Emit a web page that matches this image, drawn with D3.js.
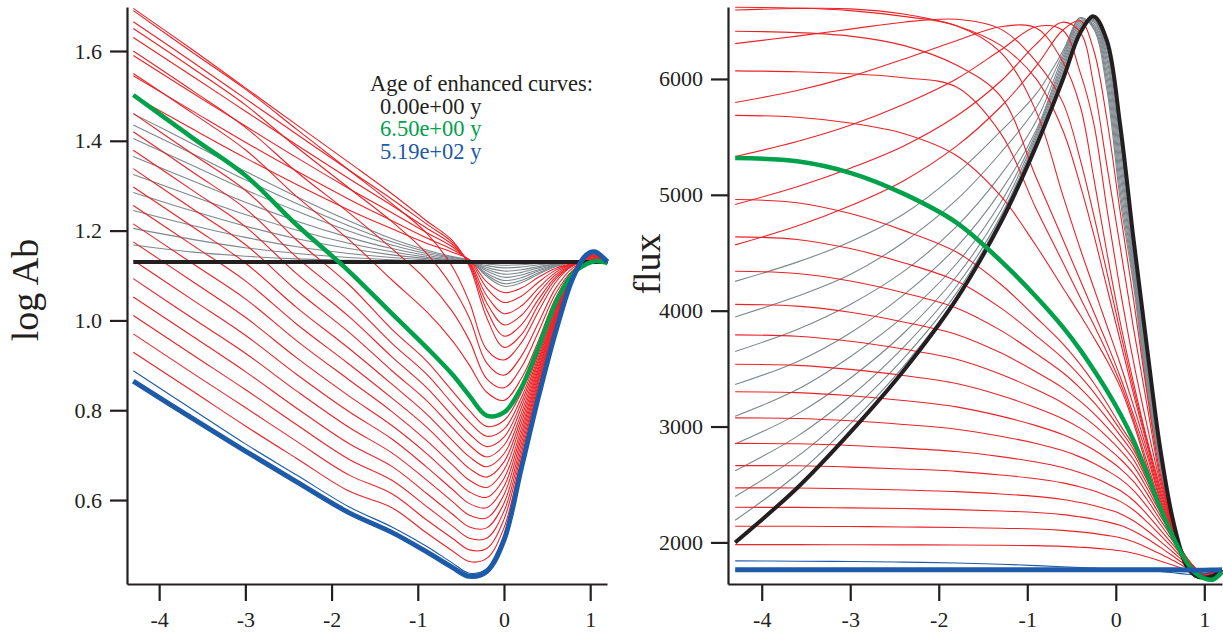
<!DOCTYPE html>
<html><head><meta charset="utf-8">
<script src="https://cdn.jsdelivr.net/npm/d3@7"></script>
<style>
body{margin:0;background:#fff}
svg{display:block}
text{font-family:"Liberation Serif","Times New Roman",serif;fill:#231f20}
</style>
</head><body>
<svg id="chart" width="1223" height="635"></svg>
<script>
// ---------- shared ----------
const xTicks = [-4, -3, -2, -1, 0, 1];
const abTicks = [0.6, 0.8, 1.0, 1.2, 1.4, 1.6];
const fxTicks = [2000, 3000, 4000, 5000, 6000];
const legendTitle = "Age of enhanced curves:";
const legendAges = ["0.00e+00 y", "6.50e+00 y", "5.19e+02 y"];

// ---------- left panel: log Ab ----------
const xLeft = [-4.3, -3.6, -3.0, -2.4, -1.8, -1.3, -0.9, -0.6, -0.4, -0.2, 0.0, 0.2, 0.4, 0.6, 0.8, 0.95, 1.05, 1.2];
const abBlack = [1.13, 1.13, 1.13, 1.13, 1.13, 1.13, 1.13, 1.13, 1.13, 1.13, 1.13, 1.13, 1.13, 1.13, 1.13, 1.13, 1.13, 1.13];
const abGray = [
  [1.168, 1.152, 1.143, 1.137, 1.134, 1.132, 1.131, 1.13, 1.13, 1.128, 1.127, 1.127, 1.128, 1.129, 1.13, 1.13, 1.13, 1.13],
  [1.205, 1.18, 1.162, 1.149, 1.14, 1.135, 1.132, 1.131, 1.13, 1.126, 1.123, 1.124, 1.127, 1.129, 1.13, 1.13, 1.13, 1.13],
  [1.245, 1.211, 1.185, 1.164, 1.149, 1.14, 1.135, 1.132, 1.13, 1.122, 1.117, 1.119, 1.124, 1.128, 1.13, 1.13, 1.13, 1.13],
  [1.285, 1.243, 1.21, 1.182, 1.16, 1.146, 1.138, 1.133, 1.13, 1.118, 1.11, 1.113, 1.12, 1.126, 1.13, 1.13, 1.13, 1.13],
  [1.325, 1.276, 1.236, 1.201, 1.172, 1.153, 1.141, 1.134, 1.131, 1.114, 1.103, 1.107, 1.117, 1.125, 1.129, 1.13, 1.13, 1.13],
  [1.365, 1.31, 1.263, 1.221, 1.185, 1.16, 1.145, 1.136, 1.131, 1.11, 1.096, 1.101, 1.113, 1.124, 1.129, 1.13, 1.13, 1.13],
  [1.405, 1.344, 1.291, 1.243, 1.199, 1.168, 1.149, 1.138, 1.132, 1.105, 1.089, 1.095, 1.11, 1.123, 1.129, 1.13, 1.13, 1.13],
  [1.435, 1.37, 1.313, 1.26, 1.211, 1.175, 1.153, 1.14, 1.133, 1.101, 1.082, 1.089, 1.106, 1.121, 1.129, 1.13, 1.13, 1.13],
  [1.46, 1.392, 1.332, 1.275, 1.222, 1.182, 1.157, 1.142, 1.134, 1.098, 1.076, 1.084, 1.103, 1.12, 1.129, 1.13, 1.13, 1.13]
];
const abRedRise = [
  [1.50, 1.425, 1.362, 1.302, 1.246, 1.204, 1.172, 1.152, 1.135, 1.086, 1.062, 1.072, 1.096, 1.116, 1.127, 1.131, 1.132, 1.13],
  [1.545, 1.465, 1.397, 1.332, 1.27, 1.222, 1.184, 1.158, 1.133, 1.072, 1.04, 1.054, 1.085, 1.112, 1.126, 1.131, 1.133, 1.13],
  [1.59, 1.505, 1.433, 1.362, 1.294, 1.24, 1.196, 1.164, 1.13, 1.055, 1.015, 1.032, 1.072, 1.107, 1.125, 1.131, 1.133, 1.13],
  [1.63, 1.542, 1.466, 1.39, 1.316, 1.256, 1.206, 1.169, 1.127, 1.039, 0.99, 1.011, 1.06, 1.102, 1.124, 1.131, 1.133, 1.13],
  [1.665, 1.574, 1.494, 1.414, 1.335, 1.27, 1.215, 1.174, 1.124, 1.023, 0.965, 0.99, 1.047, 1.097, 1.123, 1.131, 1.134, 1.13],
  [1.695, 1.601, 1.518, 1.435, 1.352, 1.282, 1.222, 1.178, 1.12, 1.006, 0.94, 0.968, 1.035, 1.092, 1.122, 1.131, 1.134, 1.13]
];
const abRedFall = [
  [1.69, 1.595, 1.515, 1.425, 1.335, 1.26, 1.195, 1.12, 1.04, 0.935, 0.912, 0.95, 1.02, 1.085, 1.122, 1.13, 1.133, 1.13],
  [1.65, 1.56, 1.48, 1.385, 1.295, 1.22, 1.15, 1.075, 1.005, 0.905, 0.878, 0.92, 0.995, 1.072, 1.117, 1.129, 1.133, 1.129],
  [1.60, 1.51, 1.43, 1.33, 1.24, 1.16, 1.09, 1.02, 0.955, 0.87, 0.85, 0.895, 0.975, 1.06, 1.112, 1.128, 1.132, 1.129],
  [1.55, 1.46, 1.38, 1.275, 1.18, 1.09, 1.02, 0.955, 0.9, 0.84, 0.822, 0.87, 0.955, 1.05, 1.108, 1.127, 1.132, 1.129]
];
const abGreen = [1.502, 1.405, 1.323, 1.212, 1.11, 1.015, 0.94, 0.88, 0.832, 0.788, 0.795, 0.85, 0.94, 1.04, 1.105, 1.125, 1.132, 1.128];
const abRedLate = [
  [1.461, 1.369, 1.29, 1.178, 1.08, 0.98, 0.91, 0.843, 0.799, 0.764, 0.777, 0.839, 0.933, 1.036, 1.105, 1.126, 1.133, 1.128],
  [1.42, 1.329, 1.249, 1.14, 1.044, 0.949, 0.881, 0.815, 0.773, 0.742, 0.758, 0.827, 0.927, 1.032, 1.104, 1.128, 1.134, 1.128],
  [1.379, 1.288, 1.209, 1.103, 1.009, 0.919, 0.851, 0.788, 0.747, 0.719, 0.74, 0.816, 0.92, 1.028, 1.104, 1.129, 1.136, 1.128],
  [1.338, 1.247, 1.169, 1.066, 0.974, 0.888, 0.822, 0.761, 0.722, 0.696, 0.722, 0.805, 0.913, 1.024, 1.104, 1.13, 1.137, 1.129],
  [1.297, 1.207, 1.128, 1.028, 0.938, 0.858, 0.792, 0.733, 0.696, 0.674, 0.703, 0.793, 0.907, 1.02, 1.103, 1.132, 1.138, 1.129],
  [1.256, 1.166, 1.088, 0.991, 0.903, 0.827, 0.763, 0.706, 0.67, 0.651, 0.685, 0.782, 0.9, 1.016, 1.103, 1.133, 1.139, 1.129],
  [1.215, 1.125, 1.048, 0.954, 0.868, 0.797, 0.733, 0.679, 0.644, 0.628, 0.667, 0.771, 0.893, 1.012, 1.103, 1.134, 1.14, 1.129],
  [1.175, 1.085, 1.007, 0.916, 0.832, 0.766, 0.704, 0.651, 0.618, 0.606, 0.648, 0.759, 0.887, 1.008, 1.102, 1.136, 1.142, 1.129],
  [1.134, 1.044, 0.967, 0.879, 0.797, 0.736, 0.674, 0.624, 0.592, 0.583, 0.63, 0.748, 0.88, 1.004, 1.102, 1.137, 1.143, 1.129],
  [1.093, 1.003, 0.927, 0.842, 0.762, 0.705, 0.645, 0.597, 0.566, 0.56, 0.612, 0.737, 0.873, 1.0, 1.102, 1.138, 1.144, 1.129],
  [1.052, 0.963, 0.886, 0.804, 0.726, 0.675, 0.615, 0.569, 0.54, 0.538, 0.593, 0.725, 0.867, 0.996, 1.101, 1.14, 1.145, 1.129],
  [1.011, 0.922, 0.846, 0.767, 0.691, 0.644, 0.586, 0.542, 0.515, 0.515, 0.575, 0.714, 0.86, 0.992, 1.101, 1.141, 1.146, 1.13],
  [0.97, 0.881, 0.806, 0.73, 0.656, 0.614, 0.556, 0.515, 0.489, 0.492, 0.557, 0.703, 0.853, 0.988, 1.101, 1.142, 1.148, 1.13],
  [0.929, 0.841, 0.765, 0.692, 0.62, 0.583, 0.527, 0.487, 0.463, 0.47, 0.538, 0.691, 0.847, 0.984, 1.1, 1.144, 1.149, 1.13]
];
const abBlueThin = [0.888, 0.80, 0.725, 0.655, 0.585, 0.54, 0.497, 0.46, 0.437, 0.447, 0.52, 0.68, 0.84, 0.98, 1.10, 1.145, 1.15, 1.13];
const abBlue = [0.865, 0.78, 0.709, 0.64, 0.572, 0.528, 0.485, 0.45, 0.43, 0.441, 0.511, 0.67, 0.83, 0.975, 1.095, 1.145, 1.153, 1.13];

// ---------- right panel: flux ----------
const xRight = [-4.3, -3.6, -3.0, -2.4, -1.8, -1.3, -0.9, -0.6, -0.4, -0.25, -0.1, 0.05, 0.2, 0.35, 0.5, 0.65, 0.8, 0.9, 1.0, 1.1, 1.2];
const fxBlack = [2000, 2470, 2950, 3480, 4100, 4760, 5420, 5990, 6400, 6540, 6330, 5600, 4620, 3700, 2820, 2180, 1800, 1715, 1695, 1712, 1764];
const fxGray = [
  [2191, 2588, 3023, 3518, 4115, 4778, 5443, 6018, 6415, 6532, 6290, 5530, 4575, 3658, 2801, 2172, 1798, 1713, 1695, 1712, 1764],
  [2397, 2740, 3129, 3587, 4152, 4796, 5466, 6045, 6430, 6522, 6251, 5459, 4530, 3616, 2782, 2164, 1797, 1711, 1695, 1712, 1764],
  [2618, 2915, 3259, 3684, 4211, 4814, 5488, 6073, 6445, 6514, 6211, 5389, 4486, 3574, 2762, 2155, 1796, 1709, 1695, 1712, 1764],
  [2849, 3107, 3417, 3803, 4295, 4862, 5511, 6100, 6460, 6505, 6172, 5318, 4441, 3532, 2743, 2146, 1795, 1707, 1695, 1712, 1764],
  [3089, 3319, 3603, 3948, 4405, 4934, 5534, 6128, 6475, 6493, 6125, 5245, 4396, 3490, 2724, 2138, 1794, 1705, 1695, 1712, 1764],
  [3362, 3560, 3808, 4134, 4549, 5032, 5557, 6156, 6490, 6478, 6070, 5173, 4351, 3448, 2705, 2130, 1793, 1703, 1695, 1712, 1764],
  [3648, 3838, 4054, 4337, 4726, 5172, 5634, 6183, 6505, 6462, 6015, 5100, 4306, 3406, 2686, 2121, 1792, 1701, 1695, 1712, 1764],
  [3946, 4124, 4312, 4589, 4956, 5363, 5751, 6211, 6520, 6447, 5960, 5027, 4262, 3364, 2666, 2113, 1791, 1699, 1695, 1712, 1764],
  [4253, 4419, 4595, 4832, 5181, 5549, 5871, 6238, 6530, 6432, 5905, 4955, 4222, 3322, 2647, 2105, 1790, 1697, 1695, 1712, 1764]
];
const fxRedRise = [
  [4568, 4730, 4905, 5120, 5420, 5760, 6110, 6420, 6500, 6250, 5650, 4850, 4100, 3300, 2600, 2150, 1795, 1710, 1694, 1705, 1764],
  [4917, 5070, 5230, 5420, 5680, 5980, 6300, 6490, 6400, 5950, 5250, 4550, 3850, 3200, 2560, 2140, 1792, 1709, 1694, 1705, 1764],
  [5330, 5460, 5600, 5780, 6000, 6250, 6450, 6420, 6050, 5620, 4880, 4180, 3560, 3020, 2520, 2130, 1789, 1708, 1693, 1705, 1764],
  [5797, 5900, 6020, 6170, 6330, 6450, 6440, 6150, 5760, 5150, 4500, 3900, 3380, 2900, 2480, 2120, 1786, 1707, 1693, 1705, 1764],
  [6305, 6370, 6430, 6490, 6515, 6430, 6150, 5800, 5300, 4830, 4330, 3820, 3330, 2880, 2450, 2110, 1783, 1706, 1693, 1705, 1764],
  [6595, 6608, 6605, 6560, 6460, 6290, 6000, 5560, 5080, 4660, 4200, 3740, 3280, 2850, 2420, 2100, 1780, 1705, 1692, 1705, 1764]
];
const fxRedFall = [
  [6619, 6612, 6590, 6540, 6460, 6230, 5720, 5000, 4530, 4200, 3870, 3540, 3180, 2800, 2390, 2090, 1778, 1705, 1692, 1705, 1764],
  [6412, 6400, 6370, 6290, 6120, 5850, 5150, 4620, 4260, 3990, 3720, 3430, 3100, 2760, 2365, 2080, 1775, 1704, 1692, 1705, 1764],
  [6070, 6062, 6045, 6010, 5930, 5530, 4880, 4420, 4110, 3880, 3640, 3380, 3060, 2700, 2340, 2070, 1772, 1703, 1692, 1705, 1764],
  [5686, 5670, 5620, 5530, 5340, 4990, 4560, 4200, 3960, 3770, 3570, 3340, 3030, 2660, 2320, 2060, 1770, 1702, 1692, 1705, 1764]
];
const fxGreen = [5318, 5290, 5190, 5010, 4760, 4430, 4120, 3860, 3660, 3490, 3310, 3110, 2880, 2600, 2300, 2040, 1830, 1735, 1690, 1680, 1745];
const fxRedLate = [
  [4959, 4932, 4838, 4693, 4506, 4228, 3941, 3716, 3535, 3378, 3201, 3012, 2833, 2577, 2302, 2067, 1846, 1744, 1695, 1700, 1764],
  [4637, 4615, 4536, 4414, 4257, 4024, 3783, 3590, 3433, 3297, 3140, 2972, 2803, 2564, 2304, 2075, 1857, 1755, 1697, 1702, 1764],
  [4340, 4321, 4256, 4155, 4024, 3830, 3629, 3466, 3330, 3211, 3073, 2924, 2765, 2542, 2298, 2077, 1865, 1764, 1699, 1704, 1764],
  [4054, 4039, 3986, 3903, 3795, 3636, 3471, 3334, 3217, 3114, 2995, 2863, 2716, 2510, 2283, 2072, 1868, 1770, 1701, 1706, 1764],
  [3791, 3779, 3736, 3669, 3581, 3452, 3319, 3204, 3105, 3016, 2913, 2797, 2661, 2472, 2262, 2063, 1869, 1774, 1703, 1708, 1764],
  [3537, 3528, 3493, 3440, 3371, 3268, 3162, 3067, 2984, 2909, 2820, 2720, 2596, 2425, 2233, 2047, 1866, 1776, 1705, 1712, 1764],
  [3300, 3293, 3266, 3225, 3170, 3090, 3008, 2931, 2862, 2799, 2724, 2637, 2526, 2372, 2199, 2028, 1860, 1777, 1707, 1716, 1764],
  [3075, 3070, 3050, 3018, 2977, 2916, 2854, 2793, 2736, 2684, 2621, 2548, 2449, 2313, 2159, 2005, 1852, 1776, 1710, 1720, 1764],
  [2855, 2851, 2837, 2814, 2784, 2740, 2694, 2647, 2602, 2560, 2509, 2448, 2362, 2245, 2111, 1976, 1841, 1773, 1713, 1724, 1764],
  [2663, 2661, 2650, 2634, 2613, 2582, 2550, 2514, 2478, 2445, 2403, 2354, 2280, 2180, 2065, 1947, 1829, 1770, 1716, 1728, 1764],
  [2471, 2470, 2463, 2452, 2438, 2418, 2397, 2371, 2344, 2319, 2287, 2248, 2187, 2105, 2011, 1913, 1815, 1765, 1720, 1732, 1764],
  [2303, 2302, 2298, 2292, 2283, 2271, 2258, 2240, 2220, 2202, 2177, 2148, 2099, 2034, 1959, 1880, 1800, 1759, 1724, 1736, 1764],
  [2139, 2139, 2137, 2133, 2129, 2122, 2116, 2104, 2091, 2078, 2061, 2040, 2005, 1957, 1902, 1843, 1783, 1753, 1728, 1740, 1764],
  [1981, 1981, 1980, 1979, 1977, 1975, 1972, 1966, 1958, 1951, 1941, 1928, 1906, 1876, 1840, 1803, 1765, 1745, 1732, 1744, 1764]
];
const fxBlueThin = [1841, 1838, 1835, 1830, 1822, 1812, 1800, 1790, 1783, 1778, 1774, 1770, 1766, 1760, 1750, 1738, 1725, 1722, 1730, 1748, 1764];
const fxBlue = [1764, 1764, 1764, 1764, 1764, 1764, 1764, 1764, 1764, 1764, 1764, 1764, 1764, 1764, 1764, 1764, 1762, 1760, 1760, 1762, 1764];

// ---------- drawing ----------
const COL = {red: "#ec2227", gray: "#7d878d", black: "#231f20", green: "#00a14b", blue: "#1d5aa8"};
const svg = d3.select("#chart");
svg.append("rect").attr("width", 1223).attr("height", 635).attr("fill", "#fff");

function panel(o) {
  const x = d3.scaleLinear().domain(o.xDom).range(o.xRange);
  const y = d3.scaleLinear().domain(o.yDom).range([584, 7]);
  const g = svg.append("g");
  const line = d3.line()
    .x((d, i) => x(o.grid[i]))
    .y(d => y(d))
    .curve(d3.curveCatmullRom.alpha(0.5));
  const draw = (arr, color, w) => g.append("path").attr("d", line(arr))
    .attr("fill", "none").attr("stroke", color).attr("stroke-width", w)
    .attr("stroke-linejoin", "round").attr("stroke-linecap", "butt");
  o.gray.forEach(a => draw(a, COL.gray, 1.1));
  o.rise.forEach(a => draw(a, COL.red, 1.1));
  o.fall.forEach(a => draw(a, COL.red, 1.1));
  o.late.forEach(a => draw(a, COL.red, 1.1));
  draw(o.blueThin, COL.blue, 1.1);
  draw(o.black, COL.black, 4);
  draw(o.green, COL.green, 4.5);
  draw(o.blue, COL.blue, 5);

  const ya = g.append("g").attr("transform", `translate(${o.xRange[0]},0)`)
    .call(d3.axisLeft(y).tickValues(o.yTicks).tickFormat(o.yFmt).tickSize(17).tickPadding(8).tickSizeOuter(0));
  const xa = g.append("g").attr("transform", "translate(0,584)")
    .call(d3.axisBottom(x).tickValues(xTicks).tickFormat(d => String(d)).tickSize(17).tickPadding(10).tickSizeOuter(0));
  [ya, xa].forEach(a => {
    a.attr("font-family", null).attr("font-size", null);
    a.select(".domain").attr("stroke", COL.black).attr("stroke-width", 2.2);
    a.selectAll(".tick line").attr("stroke", COL.black).attr("stroke-width", 2.2);
    a.selectAll(".tick text").attr("fill", COL.black).style("font-size", "22px")
      .style("font-family", '"Liberation Serif","Times New Roman",serif');
  });
  g.append("text").attr("transform", `translate(${o.labX},${o.labY}) rotate(-90)`)
    .attr("text-anchor", "middle").style("font-size", "38px").text(o.label);
  return {x, y, g};
}

panel({
  grid: xLeft, xDom: [-4.373, 1.195], xRange: [127, 607], yDom: [0.413, 1.698],
  yTicks: abTicks, yFmt: d3.format(".1f"),
  gray: abGray, rise: abRedRise, fall: abRedFall, late: abRedLate,
  black: abBlack, green: abGreen, blue: abBlue, blueThin: abBlueThin,
  label: "log Ab", labX: 38, labY: 290
});
panel({
  grid: xRight, xDom: [-4.381, 1.2], xRange: [728, 1222], yDom: [1641, 6621],
  yTicks: fxTicks, yFmt: d3.format("d"),
  gray: fxGray, rise: fxRedRise, fall: fxRedFall, late: fxRedLate,
  black: fxBlack, green: fxGreen, blue: fxBlue, blueThin: fxBlueThin,
  label: "flux", labX: 660, labY: 264
});

// legend
const lg = svg.append("g").style("font-size", "22.5px");
lg.append("text").attr("x", 370).attr("y", 91).text(legendTitle);
const legCols = [COL.black, COL.green, COL.blue];
legendAges.forEach((t, i) => lg.append("text").attr("x", 380).attr("y", 113.5 + i * 22.5)
  .attr("fill", legCols[i]).style("fill", legCols[i]).text(t));
</script>
</body></html>
